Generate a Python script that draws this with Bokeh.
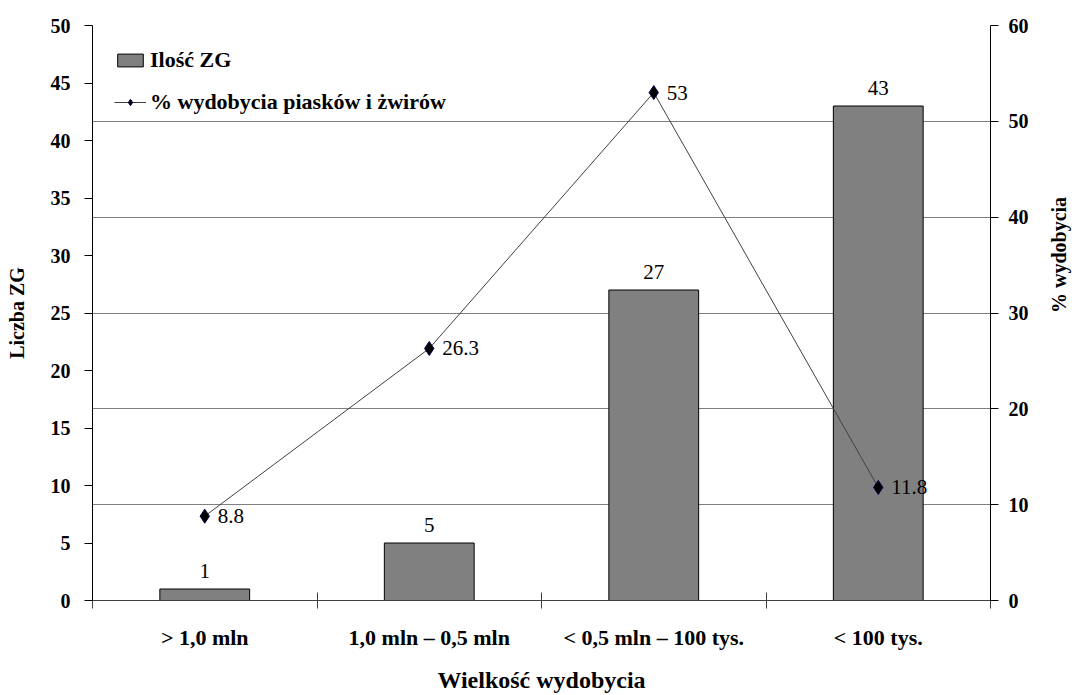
import math
from bokeh.plotting import figure
from bokeh.models import (Range1d, LinearAxis, FixedTicker, SingleIntervalTicker,
                          Grid, Legend, LegendItem, ColumnDataSource)
from bokeh.embed import file_html
from bokeh.resources import INLINE
from bokeh.core.properties import value

# Data
categories = ["> 1,0 mln", "1,0 mln \u2013 0,5 mln", "< 0,5 mln \u2013 100 tys.", "< 100 tys."]
zg_count = [1, 5, 27, 43]
pct_extraction = [8.8, 26.3, 53, 11.8]

FONT = "'Liberation Serif', 'Times New Roman', 'DejaVu Serif', serif"

xs = [i + 0.5 for i in range(len(categories))]
src = ColumnDataSource(dict(
    x=xs, cat=categories, zg=zg_count, pct=pct_extraction,
    zg_lbl=[str(v) for v in zg_count],
    pct_lbl=[str(v) for v in pct_extraction],
))

p = figure(width=1083, height=695, output_backend="svg", toolbar_location=None,
           x_range=Range1d(0, len(categories)), y_range=Range1d(0, 50),
           min_border_left=92, min_border_right=91, min_border_top=25, min_border_bottom=93,
           x_axis_type=None, y_axis_type=None)
p.extra_y_ranges = {"pct": Range1d(0, 60)}
p.outline_line_color = None
p.xgrid.visible = False
p.ygrid.visible = False
p.background_fill_color = "white"

# horizontal grid follows the right-hand percentage scale
grid = Grid(dimension=1, ticker=SingleIntervalTicker(interval=10), y_range_name="pct",
            grid_line_color="#7f7f7f", grid_line_width=1)
p.add_layout(grid)

# bottom category axis: labels at centres, separator ticks at boundaries
xaxis = LinearAxis(
    ticker=FixedTicker(ticks=xs, minor_ticks=list(range(len(categories) + 1))),
    major_label_overrides={x: c for x, c in zip(xs, categories)},
    axis_label="Wielko\u015b\u0107 wydobycia",
)
xaxis.major_tick_line_color = None
xaxis.major_tick_out = 8
xaxis.minor_tick_in = 8
xaxis.minor_tick_out = 8
xaxis.minor_tick_line_color = "#404040"
xaxis.axis_line_color = "#404040"
xaxis.major_label_standoff = 16
xaxis.major_label_text_font = FONT
xaxis.major_label_text_font_style = "bold"
xaxis.major_label_text_font_size = "22px"
xaxis.major_label_text_color = "black"
xaxis.axis_label_text_font = FONT
xaxis.axis_label_text_font_style = "bold"
xaxis.axis_label_text_font_size = "24px"
xaxis.axis_label_text_color = "black"
xaxis.axis_label_standoff = 14
p.add_layout(xaxis, "below")

# left axis: number of mines
yaxis = LinearAxis(ticker=SingleIntervalTicker(interval=5), axis_label="Liczba ZG")
# right axis: extraction share
raxis = LinearAxis(ticker=SingleIntervalTicker(interval=10), y_range_name="pct",
                   axis_label="% wydobycia")
for ax in (yaxis, raxis):
    ax.axis_line_color = "black"
    ax.major_tick_line_color = "black"
    ax.major_tick_in = 0
    ax.major_tick_out = 8
    ax.minor_tick_line_color = None
    ax.major_label_text_font = FONT
    ax.major_label_text_font_style = "bold"
    ax.major_label_text_font_size = "20px"
    ax.major_label_text_color = "black"
    ax.axis_label_text_font = FONT
    ax.axis_label_text_font_style = "bold"
    ax.axis_label_text_font_size = "20px"
    ax.axis_label_text_color = "black"
yaxis.major_label_standoff = 14
yaxis.axis_label_standoff = 20
raxis.major_label_standoff = 10
raxis.axis_label_standoff = 27
raxis.axis_label_orientation = math.pi / 2
p.add_layout(yaxis, "left")
p.add_layout(raxis, "right")

# bars
bars = p.vbar(x="x", top="zg", width=0.4, source=src, fill_color="#808080",
              line_color="black", line_width=1)
p.text(x="x", y="zg", text="zg_lbl", source=src, text_align="center",
       text_baseline="bottom", y_offset=-11, text_font=value(FONT),
       text_font_size="21px", text_color="black")

# line with diamond markers
line = p.line(x="x", y="pct", source=src, y_range_name="pct", line_color="#404040",
              line_width=1)
marks = p.scatter(x="x", y="pct", source=src, y_range_name="pct", marker="diamond",
                  size=14, fill_color="black", line_color="#000040")
p.text(x="x", y="pct", text="pct_lbl", source=src, y_range_name="pct",
       text_align="left", text_baseline="middle", x_offset=13,
       text_font=value(FONT), text_font_size="21px", text_color="black")

legend = Legend(items=[
    LegendItem(label="Ilo\u015b\u0107 ZG", renderers=[bars]),
    LegendItem(label="% wydobycia piask\u00f3w i \u017cwir\u00f3w", renderers=[line, marks]),
], location="top_left")
legend.border_line_color = None
legend.background_fill_alpha = 0
legend.margin = 22
legend.padding = 4
legend.spacing = 16
legend.glyph_width = 32
legend.glyph_height = 16
legend.label_standoff = 4
legend.label_text_font = FONT
legend.label_text_font_style = "bold"
legend.label_text_font_size = "22px"
legend.label_text_color = "black"
p.add_layout(legend, "center")

open("out.html", "w").write(file_html(p, INLINE))
